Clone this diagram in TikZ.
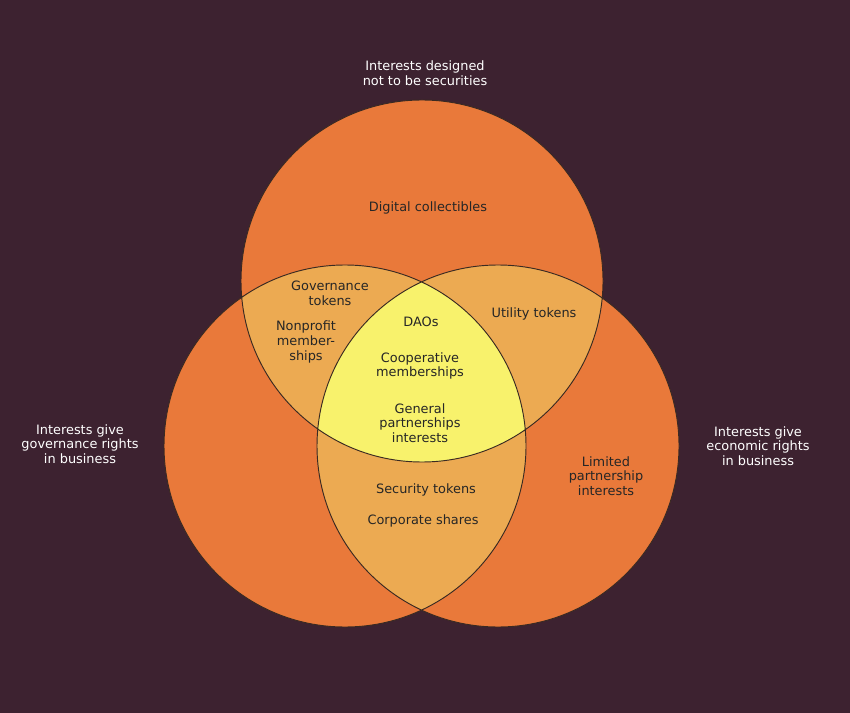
\documentclass[tikz,border=0pt]{standalone}
\usepackage{fontspec}
\setmainfont{DejaVu Sans}
\definecolor{bgplum}{HTML}{3D2230}
\definecolor{setorange}{HTML}{E9793A}
\definecolor{pairamber}{HTML}{ECAA52}
\definecolor{coreyellow}{HTML}{F8F26C}
\definecolor{rimline}{HTML}{3A2A22}
\tikzset{
  lbl/.style={align=center, font=\fontsize{11}{12.5}\selectfont, text=black!85},
  outer/.style={align=center, font=\fontsize{11}{12.5}\selectfont, text=white}
}
\begin{document}
\begin{tikzpicture}[x=0.03cm,y=-0.03cm]
\fill[bgplum] (0,0) rectangle (850,713);
\useasboundingbox (0,0) rectangle (850,713);
\def\topset{(422,281) circle (181)}
\def\leftset{(345,446) circle (181)}
\def\rightset{(498,446) circle (181)}
% single sets
\fill[setorange] \topset; \fill[setorange] \leftset; \fill[setorange] \rightset;
% pairwise overlaps
\begin{scope}\clip \topset; \fill[pairamber] \leftset; \fill[pairamber] \rightset;\end{scope}
\begin{scope}\clip \leftset; \fill[pairamber] \rightset;\end{scope}
% core
\begin{scope}\clip \topset; \clip \leftset; \fill[coreyellow] \rightset;\end{scope}
\draw[rimline, line width=0.8pt] \topset \leftset \rightset;
% labels
\node[outer] (ttl) at (425,73) {Interests designed\\not to be securities};
\node[outer] (gov) at (80,444) {Interests give\\governance rights\\in business};
\node[outer] (eco) at (758,446) {Interests give\\economic rights\\in business};
\node[lbl] (dig) at (428,208) {Digital collectibles};
\node[lbl] (gtk) at (330,293) {Governance\\tokens};
\node[lbl] (npm) at (306,342) {Nonprofit\\member-\\ships};
\node[lbl] (utk) at (534,314) {Utility tokens};
\node[lbl] (dao) at (421,322) {DAOs};
\node[lbl] (coop) at (420,366) {Cooperative\\memberships};
\node[lbl] (gpi) at (420,423) {General\\partnerships\\interests};
\node[lbl] (lpi) at (606,476) {Limited\\partnership\\interests};
\node[lbl] (sec) at (426,490) {Security tokens};
\node[lbl] (corp) at (423,521) {Corporate shares};
\end{tikzpicture}
\end{document}
